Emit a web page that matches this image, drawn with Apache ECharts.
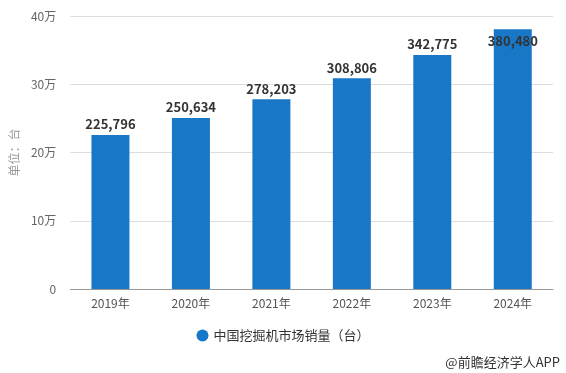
<!DOCTYPE html>
<html><head><meta charset="utf-8">
<script src="https://cdn.jsdelivr.net/npm/echarts@6/dist/echarts.min.js"></script>
<style>html,body{margin:0;padding:0;background:#fff}#c{width:566px;height:373px}</style>
</head><body><div id="c"></div>
<script>
var categories = ['2019年','2020年','2021年','2022年','2023年','2024年'];
var sales = [225796, 250634, 278203, 308806, 342775, 380480];
var seriesName = '中国挖掘机市场销量（台）';
var yTicks = [0, 100000, 200000, 300000, 400000];

var chart = echarts.init(document.getElementById('c'));
var font = '"Microsoft YaHei","Noto Sans CJK SC",sans-serif';
chart.setOption({
  animation: false,
  textStyle: {fontFamily: font},
  grid: {left: 66, right: 13, top: 16, bottom: 84},
  xAxis: {
    type: 'category', data: categories,
    axisLine: {lineStyle: {color: '#999'}},
    axisTick: {alignWithLabel: true, lineStyle: {color: '#999'}},
    axisLabel: {color: '#555', fontSize: 12, margin: 8}
  },
  yAxis: {
    type: 'value', min: 0, max: 400000, interval: 100000,
    name: '单位：台', nameLocation: 'middle', nameGap: 50, nameRotate: 90,
    nameTextStyle: {color: '#999', fontSize: 12},
    axisLine: {show: false}, axisTick: {show: false},
    axisLabel: {color: '#666', fontSize: 12, margin: 14,
      formatter: function (v) { return yTicks.indexOf(v) >= 0 && v !== 0 ? (v / 10000) + '万' : '0'; }},
    splitLine: {lineStyle: {color: '#ddd'}}
  },
  legend: {
    bottom: 26, left: 'center', icon: 'circle', itemWidth: 12, itemHeight: 12,
    textStyle: {color: '#333', fontSize: 13}
  },
  graphic: [{type: 'text', right: 6, bottom: 4,
    style: {text: '@前瞻经济学人APP', fill: '#333', fontSize: 13, fontFamily: font}}],
  series: [{
    name: seriesName, type: 'bar', barWidth: 38,
    itemStyle: {color: '#1878c7'},
    label: {show: true, position: 'top', distance: 4, color: '#333', fontWeight: 'bold', fontSize: 13,
      formatter: function (p) { return p.value.toLocaleString('en-US'); }},
    data: sales.map(function (v, i) {
      return i === sales.length - 1 ? {value: v, label: {position: 'insideTop', distance: 5}} : v;
    })
  }]
});
</script></body></html>
